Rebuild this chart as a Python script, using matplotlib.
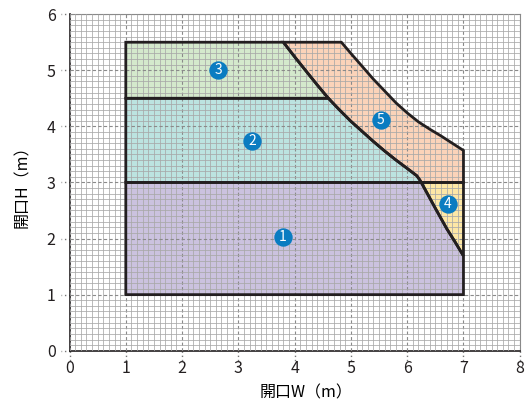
import numpy as np
import matplotlib.pyplot as plt
from matplotlib.patches import Polygon

plt.rcParams['font.family'] = ['Noto Sans CJK JP', 'DejaVu Sans']

# inner boundary curve (left edge of zone 5, then zone 1 / zone 4 split)
inner_x = [3.80, 4.00, 4.20, 4.40, 4.60, 4.80, 5.00, 5.20, 5.40, 5.60, 5.80, 6.00,
           6.17, 6.22, 6.25, 6.50, 6.70, 6.85, 7.00]
inner_y = [5.50, 5.24, 4.99, 4.74, 4.50, 4.29, 4.09, 3.91, 3.73, 3.56, 3.40, 3.25,
           3.12, 3.05, 3.00, 2.54, 2.18, 1.94, 1.69]
# outer boundary curve (right edge of zone 5)
outer_x = [4.83, 5.00, 5.20, 5.40, 5.60, 5.80, 6.00, 6.20, 6.40, 6.60, 6.80, 7.00]
outer_y = [5.50, 5.30, 5.07, 4.84, 4.63, 4.42, 4.24, 4.08, 3.95, 3.83, 3.70, 3.57]

x_left, x_right = 1.0, 7.0
y_bottom, y_split1, y_split2, y_top = 1.0, 3.0, 4.5, 5.5

zone_colors = ['#cbc2df', '#bce3e0', '#d4e9cc', '#fde7a6', '#fbd3b9']
label_nums = ['1', '2', '3', '4', '5']
label_x = [3.79, 3.24, 2.64, 6.72, 5.53]
label_y = [2.03, 3.74, 5.00, 2.62, 4.11]

xticks = np.arange(0, 9)
yticks = np.arange(0, 7)

inner = list(zip(inner_x, inner_y))
outer = list(zip(outer_x, outer_y))
lower = [p for p in inner if p[1] <= y_split1]

zone1 = [(x_left, y_bottom), (x_right, y_bottom)] + lower[::-1] + [(x_left, y_split1)]
zone2 = [(x_left, y_split1)] + [p for p in inner if y_split1 <= p[1] <= y_split2][::-1] + [(x_left, y_split2)]
zone3 = [(x_left, y_split2)] + [p for p in inner if p[1] >= y_split2][::-1] + [(x_left, y_top)]
zone4 = lower + [(x_right, y_split1)]
zone5 = [p for p in inner if p[1] >= y_split1] + [(x_right, y_split1)] + outer[::-1]
zones = [zone1, zone2, zone3, zone4, zone5]

fig = plt.figure(figsize=(5.25, 4.05), dpi=100)
ax = fig.add_axes([0.1324, 0.134, 0.8576, 0.831])

for pts, c in zip(zones, zone_colors):
    ax.add_patch(Polygon(pts, closed=True, facecolor=c, edgecolor='none', zorder=1))
for pts in zones:
    ax.add_patch(Polygon(pts, closed=True, fill=False, edgecolor='#231f20',
                         linewidth=2, joinstyle='miter', zorder=4))

ax.set_xlim(0, 8)
ax.set_ylim(0, 6)
ax.set_xticks(xticks)
ax.set_yticks(yticks)
ax.set_xticks(np.arange(0, 8.01, 0.1), minor=True)
ax.set_yticks(np.arange(0, 6.01, 0.1), minor=True)
ax.set_axisbelow(False)
ax.grid(which='minor', color='#a8a8a8', linewidth=0.55, zorder=2)
ax.grid(which='major', color='#8a8a8a', linewidth=0.8, linestyle=(0, (3, 2)), zorder=2)

# dotted tick marks
ax.tick_params(which='both', length=0, labelsize=11.5, colors='#231f20')
ax.tick_params(axis='x', pad=7)
ax.tick_params(axis='y', pad=10)
for t in xticks:
    ax.plot([t, t], [0, -0.03], transform=ax.get_xaxis_transform(), clip_on=False,
            color='#777777', linewidth=1, linestyle=(0, (1, 2)))
for t in yticks:
    ax.plot([0, -0.02], [t, t], transform=ax.get_yaxis_transform(), clip_on=False,
            color='#777777', linewidth=1, linestyle=(0, (1, 2)))

for s in ['top', 'right']:
    ax.spines[s].set_color('#8a8a8a')
    ax.spines[s].set_linewidth(0.8)
for s in ['left', 'bottom']:
    ax.spines[s].set_color('#231f20')
    ax.spines[s].set_linewidth(1.2)

ax.scatter(label_x, label_y, s=175, color='#0a7cc1', zorder=5, linewidths=0)
for n, lx, ly in zip(label_nums, label_x, label_y):
    ax.text(lx, ly, n, color='white', fontsize=10, ha='center', va='center', zorder=6)

ax.set_xlabel('開口W（m）', fontsize=11.5)
ax.set_ylabel('開口H（m）', fontsize=11.5)
ax.xaxis.set_label_coords(0.526, -0.1)
ax.yaxis.set_label_coords(-0.085, 0.5)

fig.savefig('out.png', dpi=100)
